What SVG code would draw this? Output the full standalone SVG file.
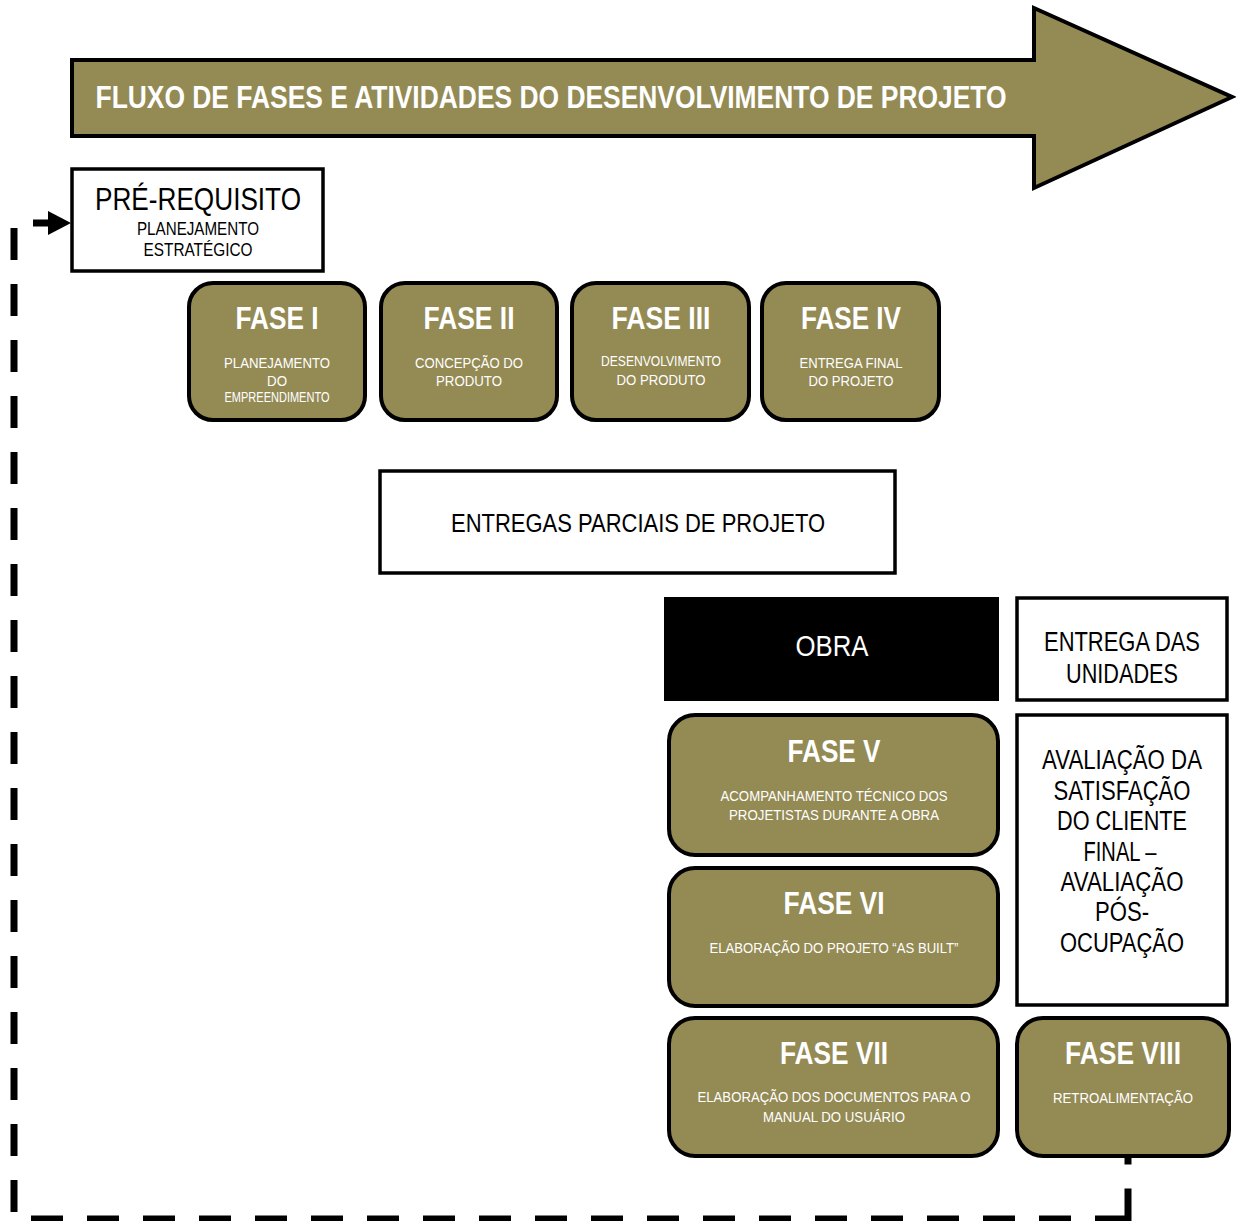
<svg xmlns="http://www.w3.org/2000/svg" width="1236" height="1221" viewBox="0 0 1236 1221">
  <defs>
    <style>
      .olive { fill: #948A54; stroke: #000; stroke-width: 4; }
      .plain { fill: #fff; stroke: #000; stroke-width: 3.5; }
      text { font-family: "Liberation Sans", Arial, sans-serif; text-anchor: middle; }
      .head { font-weight: bold; font-size: 31px; fill: #fff; }
      .sub { font-size: 15.5px; fill: #fff; }
      .dark { fill: #000; }
      .flow { fill: none; stroke: #000; stroke-width: 7; stroke-dasharray: 32 24; stroke-dashoffset: 15; }
      .flow-end { fill: none; stroke: #000; stroke-width: 7; stroke-dasharray: 34 24; }
    </style>
  </defs>

  <!-- banner arrow -->
  <g id="banner">
    <path d="M72,60 H1034 V8 L1232,97 L1034,188 V136 H72 Z" fill="#948A54" stroke="#000" stroke-width="4" stroke-linejoin="miter"/>
    <text x="551" y="108" font-size="32" font-weight="bold" fill="#fff" textLength="911" lengthAdjust="spacingAndGlyphs">FLUXO DE FASES E ATIVIDADES DO DESENVOLVIMENTO DE PROJETO</text>
  </g>

  <!-- feedback loop connector: from FASE VIII back to the pre-requisite -->
  <g id="connectors">
    <path class="flow" d="M50,223 H14 V1219 H1131.5"/>
    <path class="flow-end" d="M1128,1222.5 V1157"/>
    <polygon points="48,211 71,223 48,235" fill="#000"/>
  </g>

  <g id="pre-requisito">
    <rect class="plain" x="72" y="169" width="251" height="102"/>
    <text x="198" y="210" font-size="31" class="dark" textLength="206" lengthAdjust="spacingAndGlyphs">PRÉ-REQUISITO</text>
    <text x="198" y="235" font-size="18" class="dark" textLength="122" lengthAdjust="spacingAndGlyphs">PLANEJAMENTO</text>
    <text x="198" y="256" font-size="18" class="dark" textLength="109" lengthAdjust="spacingAndGlyphs">ESTRATÉGICO</text>
  </g>

  <g id="fase-1">
    <rect class="olive" x="189" y="283" width="176" height="137" rx="24"/>
    <text x="277" y="329" class="head" textLength="83" lengthAdjust="spacingAndGlyphs">FASE I</text>
    <text x="277" y="368" class="sub" textLength="106" lengthAdjust="spacingAndGlyphs">PLANEJAMENTO</text>
    <text x="277" y="386" class="sub" textLength="20" lengthAdjust="spacingAndGlyphs">DO</text>
    <text x="277" y="402" class="sub" font-size="13.5" textLength="105" lengthAdjust="spacingAndGlyphs">EMPREENDIMENTO</text>
  </g>

  <g id="fase-2">
    <rect class="olive" x="381" y="283" width="176" height="137" rx="24"/>
    <text x="469" y="329" class="head" textLength="91" lengthAdjust="spacingAndGlyphs">FASE II</text>
    <text x="469" y="368" class="sub" textLength="108" lengthAdjust="spacingAndGlyphs">CONCEPÇÃO DO</text>
    <text x="469" y="386" class="sub" textLength="66" lengthAdjust="spacingAndGlyphs">PRODUTO</text>
  </g>

  <g id="fase-3">
    <rect class="olive" x="572" y="283" width="177" height="137" rx="24"/>
    <text x="661" y="329" class="head" textLength="99" lengthAdjust="spacingAndGlyphs">FASE III</text>
    <text x="661" y="366" class="sub" font-size="14.5" textLength="120" lengthAdjust="spacingAndGlyphs">DESENVOLVIMENTO</text>
    <text x="661" y="385" class="sub" textLength="89" lengthAdjust="spacingAndGlyphs">DO PRODUTO</text>
  </g>

  <g id="fase-4">
    <rect class="olive" x="762" y="283" width="177" height="137" rx="24"/>
    <text x="851" y="329" class="head" textLength="100" lengthAdjust="spacingAndGlyphs">FASE IV</text>
    <text x="851" y="368" class="sub" textLength="103" lengthAdjust="spacingAndGlyphs">ENTREGA FINAL</text>
    <text x="851" y="386" class="sub" textLength="85" lengthAdjust="spacingAndGlyphs">DO PROJETO</text>
  </g>

  <g id="entregas-parciais">
    <rect class="plain" x="380" y="471" width="515" height="102"/>
    <text x="638" y="532" font-size="26" class="dark" textLength="374" lengthAdjust="spacingAndGlyphs">ENTREGAS PARCIAIS DE PROJETO</text>
  </g>

  <g id="obra">
    <rect x="664" y="597" width="335" height="104" fill="#000"/>
    <text x="832" y="656" font-size="30" fill="#fff" textLength="73" lengthAdjust="spacingAndGlyphs">OBRA</text>
  </g>

  <g id="entrega-unidades">
    <rect class="plain" x="1017" y="598" width="210" height="102"/>
    <text x="1122" y="651" font-size="27" class="dark" textLength="156" lengthAdjust="spacingAndGlyphs">ENTREGA DAS</text>
    <text x="1122" y="683" font-size="27" class="dark" textLength="112" lengthAdjust="spacingAndGlyphs">UNIDADES</text>
  </g>

  <g id="fase-5">
    <rect class="olive" x="669" y="715" width="329" height="140" rx="26"/>
    <text x="834" y="762" class="head" textLength="93" lengthAdjust="spacingAndGlyphs">FASE V</text>
    <text x="834" y="801" class="sub" textLength="227" lengthAdjust="spacingAndGlyphs">ACOMPANHAMENTO TÉCNICO DOS</text>
    <text x="834" y="820" class="sub" textLength="210" lengthAdjust="spacingAndGlyphs">PROJETISTAS DURANTE A OBRA</text>
  </g>

  <g id="avaliacao">
    <rect class="plain" x="1017" y="715" width="210" height="290" stroke-width="4"/>
    <text x="1122" y="769" font-size="27" class="dark" textLength="160" lengthAdjust="spacingAndGlyphs">AVALIAÇÃO DA</text>
    <text x="1122" y="800" font-size="27" class="dark" textLength="137" lengthAdjust="spacingAndGlyphs">SATISFAÇÃO</text>
    <text x="1122" y="830" font-size="27" class="dark" textLength="130" lengthAdjust="spacingAndGlyphs">DO CLIENTE</text>
    <text x="1120" y="861" font-size="27" class="dark" textLength="73" lengthAdjust="spacingAndGlyphs">FINAL –</text>
    <text x="1122" y="891" font-size="27" class="dark" textLength="123" lengthAdjust="spacingAndGlyphs">AVALIAÇÃO</text>
    <text x="1122" y="921" font-size="27" class="dark" textLength="54" lengthAdjust="spacingAndGlyphs">PÓS-</text>
    <text x="1122" y="952" font-size="27" class="dark" textLength="124" lengthAdjust="spacingAndGlyphs">OCUPAÇÃO</text>
  </g>

  <g id="fase-6">
    <rect class="olive" x="669" y="868" width="329" height="138" rx="26"/>
    <text x="834" y="914" class="head" textLength="101" lengthAdjust="spacingAndGlyphs">FASE VI</text>
    <text x="834" y="953" class="sub" textLength="249" lengthAdjust="spacingAndGlyphs">ELABORAÇÃO DO PROJETO “AS BUILT”</text>
  </g>

  <g id="fase-7">
    <rect class="olive" x="669" y="1018" width="329" height="138" rx="26"/>
    <text x="834" y="1064" class="head" textLength="108" lengthAdjust="spacingAndGlyphs">FASE VII</text>
    <text x="834" y="1102" class="sub" textLength="273" lengthAdjust="spacingAndGlyphs">ELABORAÇÃO DOS DOCUMENTOS PARA O</text>
    <text x="834" y="1122" class="sub" textLength="142" lengthAdjust="spacingAndGlyphs">MANUAL DO USUÁRIO</text>
  </g>

  <g id="fase-8">
    <rect class="olive" x="1017" y="1018" width="212" height="138" rx="26"/>
    <text x="1123" y="1064" class="head" textLength="116" lengthAdjust="spacingAndGlyphs">FASE VIII</text>
    <text x="1123" y="1103" class="sub" textLength="140" lengthAdjust="spacingAndGlyphs">RETROALIMENTAÇÃO</text>
  </g>
</svg>
